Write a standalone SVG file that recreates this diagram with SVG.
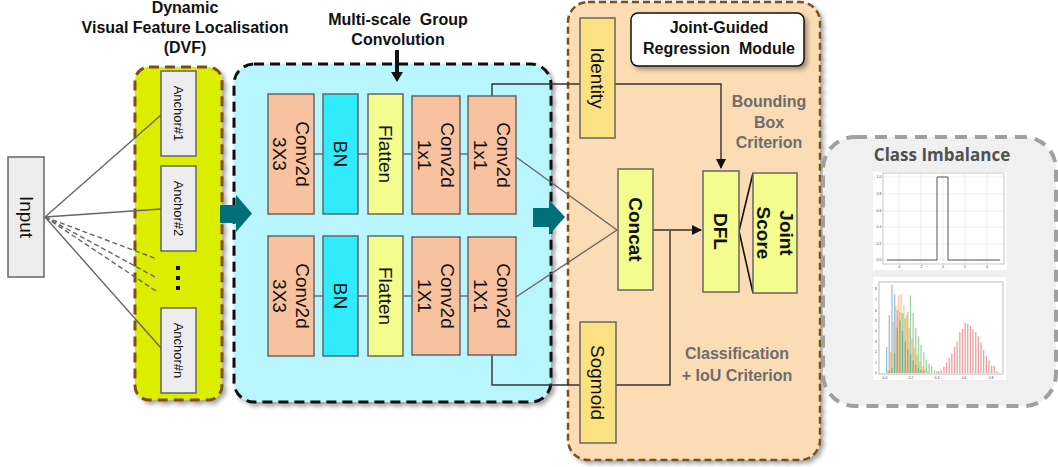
<svg xmlns="http://www.w3.org/2000/svg" width="1058" height="467" viewBox="0 0 1058 467">
  <defs>
    <filter id="shadow" x="-10%" y="-10%" width="125%" height="125%">
      <feDropShadow dx="3" dy="3" stdDeviation="2" flood-color="#000" flood-opacity="0.35"/>
    </filter>
    <marker id="arrowBlack" markerWidth="10" markerHeight="10" refX="9" refY="5" orient="auto" markerUnits="userSpaceOnUse">
      <path d="M0,0 L10,5 L0,10 Z" fill="#111"/>
    </marker>
    <style>
      .title { font-family: "Liberation Sans", Arial, sans-serif; font-weight: bold; font-size: 16px; fill: #111; text-anchor: middle; }
      .crit { font-family: "Liberation Sans", Arial, sans-serif; font-weight: bold; font-size: 16px; fill: #6d6d6d; text-anchor: middle; }
      .lbl { font-family: "Liberation Sans", Arial, sans-serif; font-size: 19px; fill: #111; text-anchor: middle; }
      .lblb { font-family: "Liberation Sans", Arial, sans-serif; font-size: 19px; font-weight: bold; fill: #111; text-anchor: middle; }
      .anchor { font-family: "Liberation Sans", Arial, sans-serif; font-size: 13px; fill: #111; text-anchor: middle; }
      .box { stroke: #666; stroke-width: 1.5; }
      .conv { fill: #f8c1a0; }
      .bn { fill: #30ecfb; }
      .flat { fill: #f3fc8c; }
      .gold { fill: #fce182; }
      .grey { fill: #ededed; }
      .wire { fill: none; stroke: #666; stroke-width: 1.4; }
      .path { fill: none; stroke: #333; stroke-width: 1.4; }
      .tick { font-family: "Liberation Sans", Arial, sans-serif; font-size: 3.5px; fill: #444; text-anchor: middle; }
      .grid { stroke: #e2e2e2; stroke-width: 0.6; }
      .bB { fill: #1f77b4; opacity: 0.45; }
      .bO { fill: #ff7f0e; opacity: 0.45; }
      .bG { fill: #2ca02c; opacity: 0.45; }
      .bR { fill: #d62728; opacity: 0.45; }
    </style>
  </defs>

  <rect width="1058" height="467" fill="#fff"/>

  <!-- container panels -->
  <g id="dvf-panel">
    <rect x="135" y="67" width="87" height="333" rx="14" fill="#dcee00" stroke="#7a4f1a" stroke-width="3" stroke-dasharray="10 6" filter="url(#shadow)"/>
    <text class="title" x="185" y="13">Dynamic</text>
    <text class="title" x="185" y="33">Visual Feature Localisation</text>
    <text class="title" x="185" y="53">(DVF)</text>
  </g>

  <g id="msgc-panel">
    <rect x="234" y="64" width="317" height="338" rx="20" fill="#b9f5fc" stroke="#111" stroke-width="3" stroke-dasharray="10 6" filter="url(#shadow)"/>
    <text class="title" x="398" y="25" xml:space="preserve">Multi-scale  Group</text>
    <text class="title" x="398" y="45">Convolution</text>
    <rect x="395" y="50" width="4" height="24" fill="#111"/>
    <path d="M391,72 L403,72 L397,82 Z" fill="#111"/>
  </g>

  <g id="jgrm-panel">
    <rect x="568" y="2" width="252" height="458" rx="20" fill="#fcdcb5" stroke="#7a5020" stroke-width="2.5" stroke-dasharray="7 4" filter="url(#shadow)"/>
    <rect x="631" y="13" width="173" height="53" rx="7" fill="#fff" stroke="#111" stroke-width="1.5" filter="url(#shadow)"/>
    <text class="title" x="719" y="33">Joint-Guided</text>
    <text class="title" x="719" y="54" xml:space="preserve">Regression  Module</text>
    <text class="crit" x="769" y="107">Bounding</text>
    <text class="crit" x="769" y="128">Box</text>
    <text class="crit" x="769" y="148">Criterion</text>
    <text class="crit" x="737" y="359">Classification</text>
    <text class="crit" x="737" y="381">+ IoU Criterion</text>
  </g>

  <g id="class-imbalance">
    <rect x="823" y="137" width="233" height="269" rx="32" fill="#f0f0f0" stroke="#a0a0a0" stroke-width="4" stroke-dasharray="12 8"/>
    <text x="942" y="161" font-family="'Open Sans', 'Liberation Sans', sans-serif" font-weight="bold" font-size="17" fill="#505050" text-anchor="middle">Class Imbalance</text>

    <!-- step function plot -->
    <rect x="873" y="172" width="134" height="98" fill="#fff"/>
    <g class="grid">
      <line x1="899" y1="173" x2="899" y2="264"/><line x1="921" y1="173" x2="921" y2="264"/>
      <line x1="943" y1="173" x2="943" y2="264"/><line x1="965" y1="173" x2="965" y2="264"/>
      <line x1="987" y1="173" x2="987" y2="264"/>
      <line x1="883" y1="177" x2="1004" y2="177"/><line x1="883" y1="194" x2="1004" y2="194"/>
      <line x1="883" y1="211" x2="1004" y2="211"/><line x1="883" y1="227" x2="1004" y2="227"/>
      <line x1="883" y1="244" x2="1004" y2="244"/><line x1="883" y1="260" x2="1004" y2="260"/>
    </g>
    <rect x="883" y="173" width="121" height="91" fill="none" stroke="#bbb" stroke-width="0.8"/>
    <path d="M887,260 L937,260 L937,177 L948,177 L948,260 L1000,260" fill="none" stroke="#444" stroke-width="0.9"/>
    <text class="tick" x="879" y="178">1.0</text><text class="tick" x="879" y="195">0.8</text>
    <text class="tick" x="879" y="212">0.6</text><text class="tick" x="879" y="228">0.4</text>
    <text class="tick" x="879" y="245">0.2</text><text class="tick" x="879" y="261">0.0</text>
    <text class="tick" x="899" y="268">-4</text><text class="tick" x="921" y="268">-2</text>
    <text class="tick" x="943" y="268">0</text><text class="tick" x="965" y="268">2</text>
    <text class="tick" x="987" y="268">4</text>

    <!-- histogram plot -->
    <rect x="873" y="277" width="133" height="103" fill="#fff"/>
    <rect x="879" y="282" width="124" height="92" fill="none" stroke="#aaa" stroke-width="0.8"/>
    <g>
      <rect class="bB" x="886.0" y="346.8" width="1.3" height="26.2"/>
      <rect class="bB" x="888.6" y="315.3" width="1.3" height="57.7"/>
      <rect class="bB" x="891.3" y="284.8" width="1.3" height="88.2"/>
      <rect class="bB" x="894.0" y="294.3" width="1.3" height="78.7"/>
      <rect class="bB" x="896.6" y="310.0" width="1.3" height="63.0"/>
      <rect class="bB" x="899.3" y="320.5" width="1.3" height="52.5"/>
      <rect class="bB" x="901.9" y="331.0" width="1.3" height="42.0"/>
      <rect class="bB" x="904.6" y="341.5" width="1.3" height="31.5"/>
      <rect class="bB" x="907.2" y="348.9" width="1.3" height="24.1"/>
      <rect class="bB" x="909.9" y="354.1" width="1.3" height="18.9"/>
      <rect class="bB" x="912.5" y="360.4" width="1.3" height="12.6"/>
      <rect class="bB" x="915.2" y="364.6" width="1.3" height="8.4"/>
      <rect class="bB" x="917.8" y="367.8" width="1.3" height="5.2"/>
      <rect class="bB" x="920.5" y="369.9" width="1.3" height="3.1"/>
      <rect class="bB" x="923.1" y="370.9" width="1.3" height="2.1"/>

      <rect class="bO" x="887.3" y="369.9" width="1.3" height="3.1"/>
      <rect class="bO" x="890.0" y="352.0" width="1.3" height="21.0"/>
      <rect class="bO" x="892.6" y="321.6" width="1.3" height="51.4"/>
      <rect class="bO" x="895.3" y="305.8" width="1.3" height="67.2"/>
      <rect class="bO" x="897.9" y="295.3" width="1.3" height="77.7"/>
      <rect class="bO" x="900.6" y="294.3" width="1.3" height="78.7"/>
      <rect class="bO" x="903.2" y="304.8" width="1.3" height="68.2"/>
      <rect class="bO" x="905.9" y="315.3" width="1.3" height="57.7"/>
      <rect class="bO" x="908.5" y="327.9" width="1.3" height="45.1"/>
      <rect class="bO" x="911.2" y="338.4" width="1.3" height="34.6"/>
      <rect class="bO" x="913.8" y="347.8" width="1.3" height="25.2"/>
      <rect class="bO" x="916.5" y="355.2" width="1.3" height="17.8"/>
      <rect class="bO" x="919.1" y="361.5" width="1.3" height="11.5"/>
      <rect class="bO" x="921.8" y="366.7" width="1.3" height="6.3"/>
      <rect class="bO" x="924.4" y="368.8" width="1.3" height="4.2"/>
      <rect class="bO" x="927.1" y="370.9" width="1.3" height="2.1"/>

      <rect class="bG" x="888.6" y="370.9" width="1.3" height="2.1"/>
      <rect class="bG" x="891.3" y="367.8" width="1.3" height="5.2"/>
      <rect class="bG" x="893.9" y="353.1" width="1.3" height="19.9"/>
      <rect class="bG" x="896.6" y="327.9" width="1.3" height="45.1"/>
      <rect class="bG" x="899.2" y="312.1" width="1.3" height="60.9"/>
      <rect class="bG" x="901.9" y="313.2" width="1.3" height="59.8"/>
      <rect class="bG" x="904.5" y="318.4" width="1.3" height="54.6"/>
      <rect class="bG" x="907.2" y="312.1" width="1.3" height="60.9"/>
      <rect class="bG" x="909.8" y="295.3" width="1.3" height="77.7"/>
      <rect class="bG" x="912.5" y="313.2" width="1.3" height="59.8"/>
      <rect class="bG" x="915.1" y="327.9" width="1.3" height="45.1"/>
      <rect class="bG" x="917.8" y="336.3" width="1.3" height="36.7"/>
      <rect class="bG" x="920.4" y="344.7" width="1.3" height="28.3"/>
      <rect class="bG" x="923.1" y="352.0" width="1.3" height="21.0"/>
      <rect class="bG" x="925.7" y="359.4" width="1.3" height="13.6"/>
      <rect class="bG" x="928.4" y="363.6" width="1.3" height="9.4"/>
      <rect class="bG" x="931.0" y="366.7" width="1.3" height="6.3"/>
      <rect class="bG" x="933.7" y="369.9" width="1.3" height="3.1"/>
      <rect class="bG" x="936.3" y="370.9" width="1.3" height="2.1"/>

      <rect class="bR" x="938.0" y="371.4" width="1.3" height="1.6"/>
      <rect class="bR" x="940.6" y="369.9" width="1.3" height="3.1"/>
      <rect class="bR" x="943.3" y="366.7" width="1.3" height="6.3"/>
      <rect class="bR" x="945.9" y="362.5" width="1.3" height="10.5"/>
      <rect class="bR" x="948.6" y="358.3" width="1.3" height="14.7"/>
      <rect class="bR" x="951.2" y="353.1" width="1.3" height="19.9"/>
      <rect class="bR" x="953.9" y="346.8" width="1.3" height="26.2"/>
      <rect class="bR" x="956.5" y="341.5" width="1.3" height="31.5"/>
      <rect class="bR" x="959.2" y="332.1" width="1.3" height="40.9"/>
      <rect class="bR" x="961.8" y="328.9" width="1.3" height="44.1"/>
      <rect class="bR" x="964.5" y="322.6" width="1.3" height="50.4"/>
      <rect class="bR" x="967.1" y="323.7" width="1.3" height="49.3"/>
      <rect class="bR" x="969.8" y="325.8" width="1.3" height="47.2"/>
      <rect class="bR" x="972.4" y="328.9" width="1.3" height="44.1"/>
      <rect class="bR" x="975.1" y="332.1" width="1.3" height="40.9"/>
      <rect class="bR" x="977.7" y="336.3" width="1.3" height="36.7"/>
      <rect class="bR" x="980.4" y="342.6" width="1.3" height="30.4"/>
      <rect class="bR" x="983.0" y="349.9" width="1.3" height="23.1"/>
      <rect class="bR" x="985.7" y="356.2" width="1.3" height="16.8"/>
      <rect class="bR" x="988.3" y="360.4" width="1.3" height="12.6"/>
      <rect class="bR" x="991.0" y="365.7" width="1.3" height="7.3"/>
      <rect class="bR" x="993.6" y="365.7" width="1.3" height="7.3"/>
      <rect class="bR" x="996.3" y="371.4" width="1.3" height="1.6"/>
    </g>
    <text class="tick" x="876" y="290">8</text><text class="tick" x="876" y="301">7</text>
    <text class="tick" x="876" y="312">6</text><text class="tick" x="876" y="322">5</text>
    <text class="tick" x="876" y="332">4</text><text class="tick" x="876" y="343">3</text>
    <text class="tick" x="876" y="353">2</text><text class="tick" x="876" y="364">1</text>
    <text class="tick" x="876" y="374">0</text>
    <text class="tick" x="885" y="378.5">0.0</text><text class="tick" x="911" y="378.5">0.2</text>
    <text class="tick" x="937" y="378.5">0.4</text><text class="tick" x="964" y="378.5">0.6</text>
    <text class="tick" x="991" y="378.5">0.8</text>
  </g>

  <!-- connectors -->
  <g id="connectors">
    <line class="wire" x1="45" y1="217" x2="161" y2="115"/>
    <line class="wire" x1="45" y1="217" x2="161" y2="209"/>
    <line class="wire" x1="45" y1="217" x2="161" y2="348"/>
    <line class="wire" x1="45" y1="217" x2="157" y2="259" stroke-dasharray="5 3"/>
    <line class="wire" x1="45" y1="217" x2="155" y2="277" stroke-dasharray="5 3"/>
    <line class="wire" x1="45" y1="217" x2="156" y2="291" stroke-dasharray="5 3"/>

    <line class="wire" x1="314" y1="154" x2="323" y2="154"/>
    <line class="wire" x1="358" y1="154" x2="368" y2="154"/>
    <line class="wire" x1="403" y1="154" x2="412" y2="154"/>
    <line class="wire" x1="460" y1="154" x2="468" y2="154"/>
    <line class="wire" x1="314" y1="296" x2="323" y2="296"/>
    <line class="wire" x1="358" y1="296" x2="368" y2="296"/>
    <line class="wire" x1="403" y1="296" x2="412" y2="296"/>
    <line class="wire" x1="460" y1="296" x2="468" y2="296"/>

    <line class="wire" x1="516" y1="157" x2="617" y2="230"/>
    <line class="wire" x1="516" y1="297" x2="617" y2="230"/>

    <path class="path" d="M492,96 V84 H721 V168" marker-end="url(#arrowBlack)"/>
    <path class="path" d="M492,355 V385 H670 V231"/>
    <path class="path" d="M653,230 H701" marker-end="url(#arrowBlack)" stroke="#111"/>
    <path d="M753,173 L739,231 L753,293" fill="none" stroke="#111" stroke-width="1.6"/>

    <!-- flow arrows between stages -->
    <path d="M220,205 H236 V195 L252,213.5 L236,232 V223 H220 Z" fill="#007078"/>
    <path d="M533,208 H549 V200 L565,217 L549,235 V227 H533 Z" fill="#007078"/>
  </g>

  <!-- nodes -->
  <g id="input">
    <rect class="box grey" x="8" y="157" width="36" height="120"/>
    <text class="lbl" transform="translate(26,217) rotate(90)" y="6.5">Input</text>
  </g>

  <g id="anchor-1">
    <rect class="box grey" x="161" y="71" width="35" height="85"/>
    <text class="anchor" transform="translate(178.5,113.5) rotate(90)" y="4.5">Anchor#1</text>
  </g>
  <g id="anchor-2">
    <rect class="box grey" x="161" y="166" width="35" height="85"/>
    <text class="anchor" transform="translate(178.5,208.5) rotate(90)" y="4.5">Anchor#2</text>
  </g>
  <g id="anchor-ellipsis">
    <rect x="176" y="266" width="4" height="4" fill="#111"/>
    <rect x="176" y="276" width="4" height="4" fill="#111"/>
    <rect x="176" y="286" width="4" height="4" fill="#111"/>
  </g>
  <g id="anchor-n">
    <rect class="box grey" x="161" y="308" width="35" height="85"/>
    <text class="anchor" transform="translate(178.5,350.5) rotate(90)" y="4.5">Anchor#n</text>
  </g>

  <g id="conv3x3-a">
    <rect class="box conv" x="268" y="94" width="46" height="120"/>
    <text class="lbl" transform="translate(291,154) rotate(90)"><tspan x="0" y="-5">Conv2d</tspan><tspan x="0" y="18.5">3X3</tspan></text>
  </g>
  <g id="bn-a">
    <rect class="box bn" x="323" y="94" width="35" height="120"/>
    <text class="lbl" transform="translate(340.5,154) rotate(90)" y="6.8">BN</text>
  </g>
  <g id="flatten-a">
    <rect class="box flat" x="368" y="94" width="35" height="120"/>
    <text class="lbl" transform="translate(385.5,154) rotate(90)" y="6.8">Flatten</text>
  </g>
  <g id="conv1x1-a1">
    <rect class="box conv" x="412" y="96" width="48" height="118"/>
    <text class="lbl" transform="translate(436,155) rotate(90)"><tspan x="0" y="-5">Conv2d</tspan><tspan x="0" y="18.5">1x1</tspan></text>
  </g>
  <g id="conv1x1-a2">
    <rect class="box conv" x="468" y="96" width="48" height="118"/>
    <text class="lbl" transform="translate(492,155) rotate(90)"><tspan x="0" y="-5">Conv2d</tspan><tspan x="0" y="18.5">1x1</tspan></text>
  </g>

  <g id="conv3x3-b">
    <rect class="box conv" x="268" y="236" width="46" height="120"/>
    <text class="lbl" transform="translate(291,296) rotate(90)"><tspan x="0" y="-5">Conv2d</tspan><tspan x="0" y="18.5">3X3</tspan></text>
  </g>
  <g id="bn-b">
    <rect class="box bn" x="323" y="236" width="35" height="120"/>
    <text class="lbl" transform="translate(340.5,296) rotate(90)" y="6.8">BN</text>
  </g>
  <g id="flatten-b">
    <rect class="box flat" x="368" y="236" width="35" height="120"/>
    <text class="lbl" transform="translate(385.5,296) rotate(90)" y="6.8">Flatten</text>
  </g>
  <g id="conv1x1-b1">
    <rect class="box conv" x="412" y="237" width="48" height="118"/>
    <text class="lbl" transform="translate(436,296) rotate(90)"><tspan x="0" y="-5">Conv2d</tspan><tspan x="0" y="18.5">1X1</tspan></text>
  </g>
  <g id="conv1x1-b2">
    <rect class="box conv" x="468" y="237" width="48" height="118"/>
    <text class="lbl" transform="translate(492,296) rotate(90)"><tspan x="0" y="-5">Conv2d</tspan><tspan x="0" y="18.5">1X1</tspan></text>
  </g>

  <g id="identity">
    <rect class="box gold" x="580" y="18" width="35" height="120"/>
    <text class="lbl" transform="translate(597.5,78) rotate(90)" y="6.8">Identity</text>
  </g>
  <g id="concat">
    <rect class="box flat" x="618" y="169" width="35" height="121"/>
    <text class="lblb" transform="translate(635.5,229.5) rotate(90)" y="6.8">Concat</text>
  </g>
  <g id="sogmoid">
    <rect class="box gold" x="580" y="322" width="36" height="121"/>
    <text class="lbl" transform="translate(598,382.5) rotate(90)" y="6.8">Sogmoid</text>
  </g>
  <g id="dfl">
    <rect class="box flat" x="703" y="171" width="36" height="121"/>
    <text class="lblb" transform="translate(721,231.5) rotate(90)" y="6.8">DFL</text>
  </g>
  <g id="joint-score">
    <rect class="box flat" x="753" y="173" width="44" height="120"/>
    <text class="lblb" transform="translate(775,233) rotate(90)"><tspan x="0" y="-5">Joint</tspan><tspan x="0" y="18.5">Score</tspan></text>
  </g>
</svg>
